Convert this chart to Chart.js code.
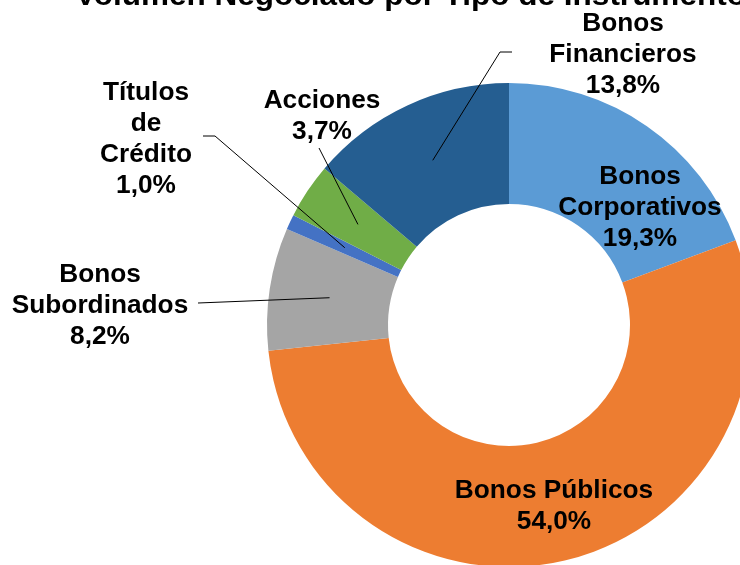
<!DOCTYPE html>
<html lang="es">
<head>
    <meta charset="UTF-8">
    <title>Volumen Negociado por Tipo de Instrumento</title>
    <script src="https://cdn.jsdelivr.net/npm/chart.js"></script>
    <style>
        html, body { margin: 0; padding: 0; background: #fff; overflow: hidden; }
        #wrap { position: relative; width: 780px; height: 600px; }
    </style>
</head>
<body>
    <div id="wrap">
        <canvas id="donutChart"></canvas>
    </div>

    <script>
        // Chart data
        const chartTitle = 'Volumen Negociado por Tipo de Instrumento';
        const categories = ['Bonos Corporativos', 'Bonos Públicos', 'Bonos Subordinados', 'Títulos de Crédito', 'Acciones', 'Bonos Financieros'];
        const shares = [19.3, 54.0, 8.2, 1.0, 3.7, 13.8];

        // Styling
        const sliceColors = ['#5B9BD5', '#ED7D31', '#A5A5A5', '#4472C4', '#70AD47', '#255E91'];
        const labelFont = 'bold 25px "Liberation Sans", Arial, sans-serif';
        const titleFont = 'bold 30px "Liberation Sans", Arial, sans-serif';
        const lineGap = 31;

        // label placement: x = centre, y = centre of first line, leader = elbow points from label side
        const labelLayout = [
            { x: 640, y: 175, lines: ['Bonos', 'Corporativos'], leader: null },
            { x: 554, y: 489, lines: ['Bonos Públicos'], leader: null },
            { x: 100, y: 273, lines: ['Bonos', 'Subordinados'], leader: [[198, 303]] },
            { x: 146, y: 91, lines: ['Títulos', 'de', 'Crédito'], leader: [[203, 136], [215, 136]] },
            { x: 322, y: 99, lines: ['Acciones'], leader: [[319, 148]] },
            { x: 623, y: 22, lines: ['Bonos', 'Financieros'], leader: [[512, 52], [500, 52]] }
        ];

        function pct(v) {
            return v.toFixed(1).replace('.', ',') + '%';
        }

        function drawText(ctx, text, x, y) {
            // Excel text looks a bit wider than the font, stretch slightly
            ctx.save();
            ctx.translate(x, y);
            ctx.scale(1.05, 1);
            ctx.fillText(text, 0, 0);
            ctx.restore();
        }

        const labelPlugin = {
            id: 'sliceLabels',
            afterDraw(chart) {
                const ctx = chart.ctx;
                const arcs = chart.getDatasetMeta(0).data;
                ctx.save();
                ctx.fillStyle = '#000';
                ctx.strokeStyle = '#000';
                ctx.lineWidth = 1;

                // leader lines
                labelLayout.forEach((lay, i) => {
                    if (!lay.leader) return;
                    const p = arcs[i].tooltipPosition();
                    ctx.beginPath();
                    ctx.moveTo(lay.leader[0][0], lay.leader[0][1]);
                    for (let k = 1; k < lay.leader.length; k++) {
                        ctx.lineTo(lay.leader[k][0], lay.leader[k][1]);
                    }
                    ctx.lineTo(p.x, p.y);
                    ctx.stroke();
                });

                // labels
                ctx.font = labelFont;
                ctx.textAlign = 'center';
                ctx.textBaseline = 'alphabetic';
                labelLayout.forEach((lay, i) => {
                    const lines = lay.lines.concat([pct(shares[i])]);
                    lines.forEach((t, k) => {
                        drawText(ctx, t, lay.x, lay.y + k * lineGap + 9);
                    });
                });

                // title, mostly cut off at the top
                ctx.font = titleFont;
                ctx.textAlign = 'left';
                drawText(ctx, chartTitle, 75, 5);
                ctx.restore();
            }
        };

        new Chart(document.getElementById('donutChart'), {
            type: 'doughnut',
            data: {
                labels: categories,
                datasets: [{
                    data: shares,
                    backgroundColor: sliceColors,
                    borderWidth: 0
                }]
            },
            options: {
                responsive: true,
                maintainAspectRatio: false,
                animation: false,
                cutout: '50%',
                layout: {
                    padding: { left: 267, top: 83, right: 29, bottom: 33 }
                },
                plugins: {
                    legend: { display: false },
                    tooltip: { enabled: false },
                    title: { display: false }
                }
            },
            plugins: [labelPlugin]
        });
    </script>
</body>
</html>
